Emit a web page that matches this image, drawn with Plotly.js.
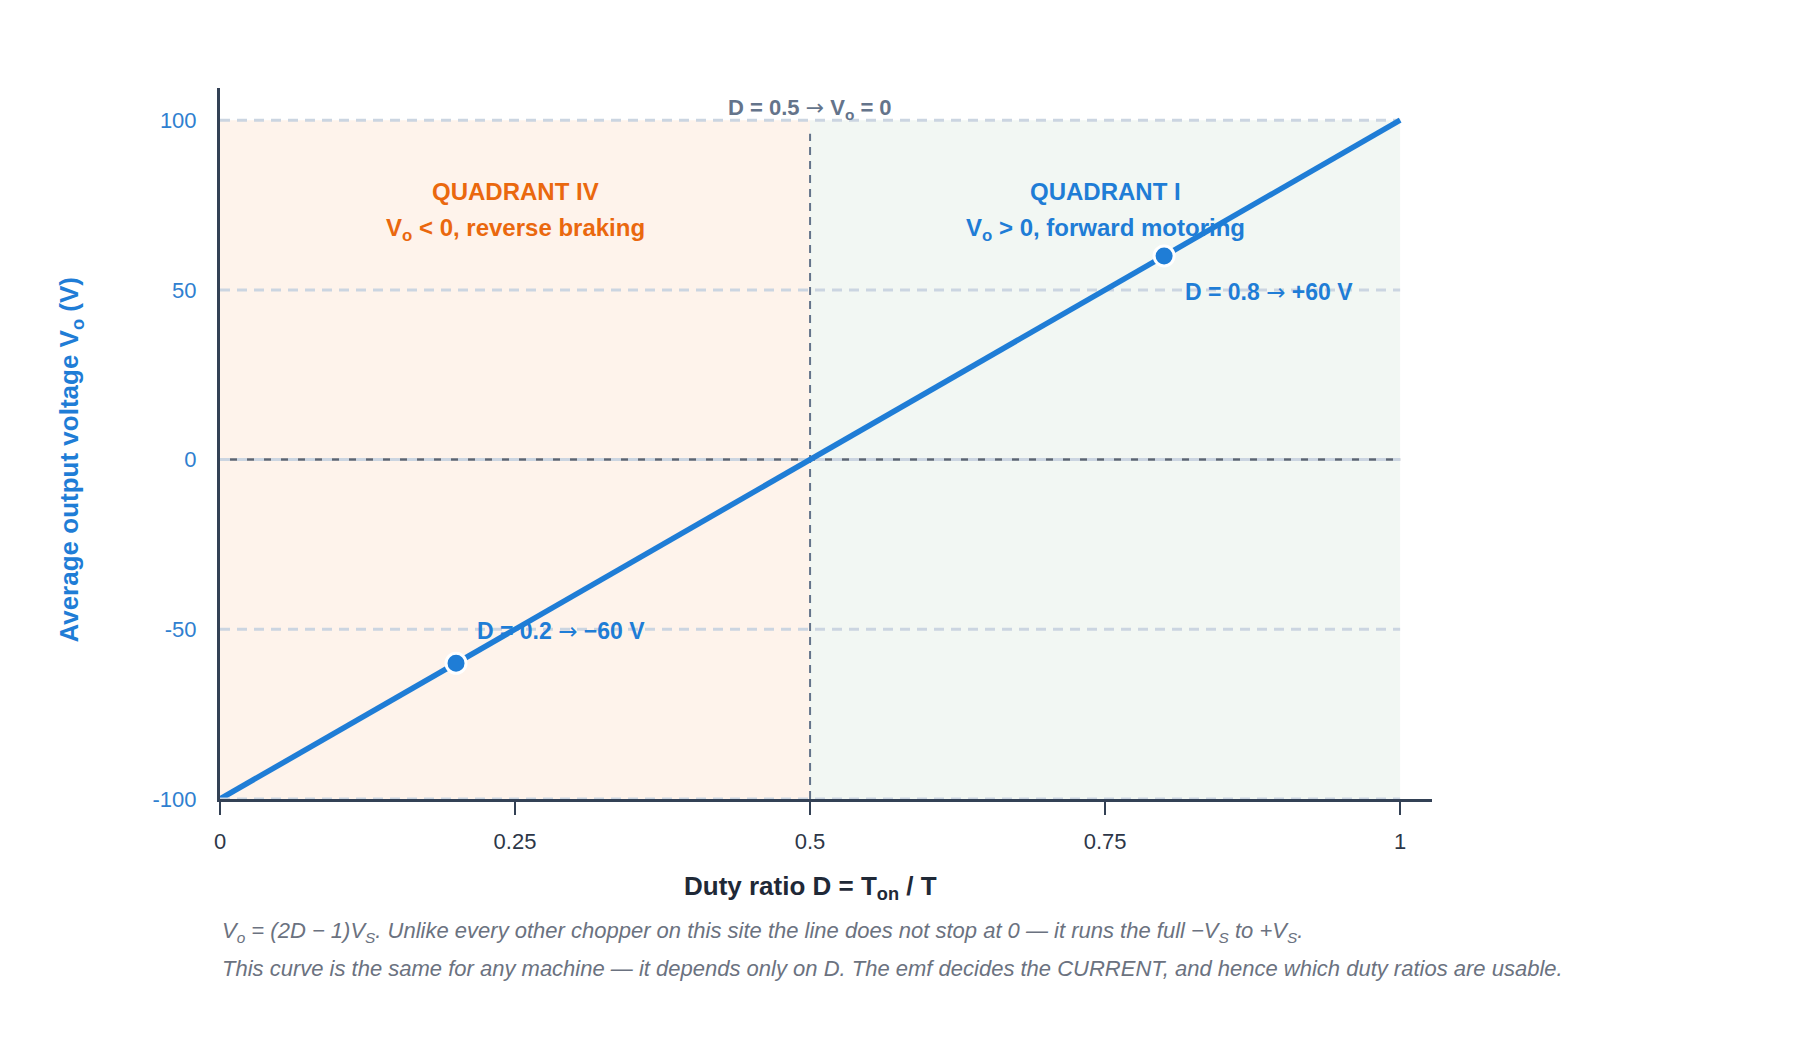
<!DOCTYPE html>
<html>
<head>
<meta charset="utf-8">
<script src="https://cdn.plot.ly/plotly-3.0.1.min.js"></script>
<style>
  html, body { margin: 0; padding: 0; background: #ffffff; }
  #chart { width: 1800px; height: 1040px; }
</style>
</head>
<body>
<div id="chart"></div>
<script>
// Average output voltage of the class-E (four-quadrant, bipolar) chopper vs duty ratio, Vs = 100 V
const dutyRatio = [0, 0.25, 0.5, 0.75, 1];
const outputVoltage = [-100, -50, 0, 50, 100];

// Two worked operating points
const markDuty = [0.2, 0.8];
const markVoltage = [-60, 60];

// Axis ticks
const xTickVals = [0, 0.25, 0.5, 0.75, 1];
const xTickText = ['0', '0.25', '0.5', '0.75', '1'];
const yTickVals = [-100, -50, 0, 50, 100];
const yTickText = ['-100', '-50', '0', '50', '100'];

// Reference grid levels
const gridLevels = [-100, -50, 0, 50, 100];

const FONT = 'Liberation Sans, Arial, Helvetica, sans-serif';
const BLUE = '#1f7dd6';
const ORANGE = '#ea680e';
const AXIS = '#334155';
const SLATE = '#64748b';
const GRID = '#cbd5e1';
const ARROW = '<span style="font-family:DejaVu Sans;font-weight:normal">\u2192</span>';

const vMin = Math.min(...outputVoltage);
const vMax = Math.max(...outputVoltage);
const dMin = Math.min(...dutyRatio);
const dMax = Math.max(...dutyRatio);
const dMid = dutyRatio[2];

const traces = [
  {
    x: dutyRatio,
    y: outputVoltage,
    type: 'scatter',
    mode: 'lines',
    line: { color: BLUE, width: 5.5 },
    hoverinfo: 'skip',
    showlegend: false
  },
  {
    x: markDuty,
    y: markVoltage,
    type: 'scatter',
    mode: 'markers',
    marker: { color: BLUE, size: 20, line: { color: '#ffffff', width: 3 } },
    hoverinfo: 'skip',
    showlegend: false
  }
];

const shapes = [
  // Quadrant IV region (D < 0.5)
  { type: 'rect', xref: 'x', yref: 'y', x0: dMin, x1: dMid, y0: vMin, y1: vMax,
    fillcolor: '#fef3eb', line: { width: 0 }, layer: 'below' },
  // Quadrant I region (D > 0.5)
  { type: 'rect', xref: 'x', yref: 'y', x0: dMid, x1: dMax, y0: vMin, y1: vMax,
    fillcolor: '#f2f7f3', line: { width: 0 }, layer: 'below' },
  // solid zero-voltage reference under the dashed grid
  { type: 'line', xref: 'x', yref: 'y', x0: dMin, x1: dMax, y0: 0, y1: 0,
    line: { color: '#5b6573', width: 2.5 }, layer: 'below' }
];

gridLevels.forEach(function (v) {
  shapes.push({
    type: 'line', xref: 'x', yref: 'y', x0: dMin, x1: dMax, y0: v, y1: v,
    line: { color: GRID, width: 3, dash: '10px,7px' },
    layer: v === vMin ? 'above' : 'below'
  });
});

// D = 0.5 boundary
shapes.push({
  type: 'line', xref: 'x', yref: 'y', x0: dMid, x1: dMid, y0: vMin, y1: 96,
  line: { color: SLATE, width: 2, dash: '8px,6px' }, layer: 'below'
});

const fmtV = function (v) { return (v > 0 ? '+' : '\u2212') + Math.abs(v) + ' V'; };

const annotations = [
  { xref: 'x', yref: 'y', x: 0.25, y: 79, showarrow: false,
    text: 'QUADRANT IV', font: { family: FONT, size: 24, color: ORANGE, weight: 'bold' } },
  { xref: 'x', yref: 'y', x: 0.25, y: 67.8, showarrow: false,
    text: 'V<sub>o</sub> &lt; 0, reverse braking', font: { family: FONT, size: 24, color: ORANGE, weight: 'bold' } },
  { xref: 'x', yref: 'y', x: 0.75, y: 79, showarrow: false,
    text: 'QUADRANT I', font: { family: FONT, size: 24, color: BLUE, weight: 'bold' } },
  { xref: 'x', yref: 'y', x: 0.75, y: 67.8, showarrow: false,
    text: 'V<sub>o</sub> &gt; 0, forward motoring', font: { family: FONT, size: 24, color: BLUE, weight: 'bold' } },
  { xref: 'x', yref: 'y', x: dMid, y: vMax, yshift: 11, showarrow: false,
    text: 'D = 0.5 ' + ARROW + ' V<sub>o</sub> = 0', font: { family: FONT, size: 22, color: SLATE, weight: 'bold' } },
  { xref: 'x', yref: 'y', x: markDuty[0], y: markVoltage[0], xanchor: 'left', xshift: 19, yshift: 32,
    showarrow: false, text: 'D = ' + markDuty[0] + ' ' + ARROW + ' ' + fmtV(markVoltage[0]),
    font: { family: FONT, size: 23, color: BLUE, weight: 'bold' } },
  { xref: 'x', yref: 'y', x: markDuty[1], y: markVoltage[1], xanchor: 'left', xshift: 19, yshift: -36,
    showarrow: false, text: 'D = ' + markDuty[1] + ' ' + ARROW + ' ' + fmtV(markVoltage[1]),
    font: { family: FONT, size: 23, color: BLUE, weight: 'bold' } },
  // axis titles, centred on the D = 0.5 / Vo = 0 cross
  { xref: 'x', yref: 'paper', x: dMid, y: 0, yanchor: 'middle', yshift: -88, showarrow: false,
    text: 'Duty ratio D = T<sub>on</sub> / T',
    font: { family: FONT, size: 26, color: '#1f2937', weight: 'bold' } },
  { xref: 'paper', yref: 'y', x: 0, y: 0, xanchor: 'center', yanchor: 'middle', xshift: -149,
    textangle: -90, showarrow: false,
    text: 'Average output voltage V<sub>o</sub> (V)',
    font: { family: FONT, size: 26, color: BLUE, weight: 'bold' } },
  // footnotes
  { xref: 'paper', yref: 'paper', x: 0, y: 0, xanchor: 'left', yanchor: 'middle', yshift: -133,
    showarrow: false, align: 'left',
    text: 'V<sub>o</sub> = (2D \u2212 1)V<sub>S</sub>. Unlike every other chopper on this site the line does not stop at 0 \u2014 it runs the full \u2212V<sub>S</sub> to +V<sub>S</sub>.',
    font: { family: FONT, size: 22, color: '#6b7280', style: 'italic' } },
  { xref: 'paper', yref: 'paper', x: 0, y: 0, xanchor: 'left', yanchor: 'middle', yshift: -169,
    showarrow: false, align: 'left',
    text: 'This curve is the same for any machine \u2014 it depends only on D. The emf decides the CURRENT, and hence which duty ratios are usable.',
    font: { family: FONT, size: 22, color: '#6b7280', style: 'italic' } }
];

const layout = {
  width: 1800,
  height: 1040,
  autosize: false,
  margin: { l: 220, r: 368, t: 88, b: 241 },
  paper_bgcolor: '#ffffff',
  plot_bgcolor: '#ffffff',
  font: { family: FONT },
  showlegend: false,
  xaxis: {
    range: [0, 1.027],
    tickvals: xTickVals,
    ticktext: xTickText,
    ticks: 'outside',
    ticklen: 13,
    tickwidth: 2.5,
    tickcolor: AXIS,
    showline: true,
    linecolor: AXIS,
    linewidth: 3,
    showgrid: false,
    zeroline: false,
    ticklabelstandoff: 8,
    tickfont: { family: FONT, size: 22, color: '#2d3748' }
  },
  yaxis: {
    range: [-100, 109.5],
    tickvals: yTickVals,
    ticktext: yTickText,
    ticks: '',
    showline: true,
    linecolor: AXIS,
    linewidth: 3,
    showgrid: false,
    zeroline: false,
    ticklabelstandoff: 16,
    tickfont: { family: FONT, size: 22, color: '#2f80d0' }
  },
  shapes: shapes,
  annotations: annotations
};

Plotly.newPlot('chart', traces, layout, { displayModeBar: false, staticPlot: true });
</script>
</body>
</html>
